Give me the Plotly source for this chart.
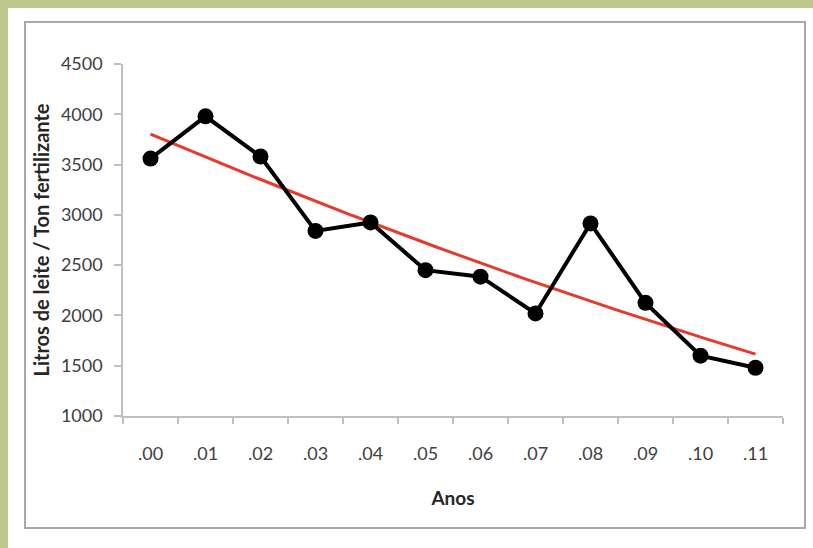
import numpy as np
import plotly.graph_objects as go

# Year labels and milk yield per ton of fertilizer
anos = [".00", ".01", ".02", ".03", ".04", ".05", ".06", ".07", ".08", ".09", ".10", ".11"]
litros = [3560, 3980, 3580, 2840, 2925, 2450, 2385, 2020, 2915, 2125, 1600, 1480]
y_ticks = [1000, 1500, 2000, 2500, 3000, 3500, 4000, 4500]

W, H = 813, 548
L, R, T, B = 123, 783, 64, 416  # plot area in pixels

x_idx = np.arange(len(anos))

# second-order polynomial trend line
coef = np.polyfit(x_idx, litros, 2)
x_fit = np.linspace(0, len(anos) - 1, 200)
y_fit = np.polyval(coef, x_fit)


def px(xp):
    return (xp - L) / (R - L)


def py(yp):
    return (B - yp) / (B - T)


fig = go.Figure()

fig.add_trace(go.Scatter(
    x=x_fit, y=y_fit, mode="lines",
    line=dict(color="#e8392d", width=3),
    hoverinfo="skip", showlegend=False,
))

fig.add_trace(go.Scatter(
    x=x_idx, y=litros, mode="lines+markers",
    line=dict(color="#000000", width=4),
    marker=dict(color="#000000", size=16),
    showlegend=False,
))

axis_col = "#bfbfbf"
font_fam = "Lato, 'Open Sans', sans-serif"
tick_font = dict(family=font_fam, size=18, color="#404040")

fig.update_layout(
    width=W, height=H,
    margin=dict(l=L, r=W - R, t=T, b=H - B),
    paper_bgcolor="#bec78e",
    plot_bgcolor="rgba(0,0,0,0)",
    showlegend=False,
    shapes=[
        # white page
        dict(type="rect", xref="paper", yref="paper",
             x0=px(8), x1=px(813), y0=py(8), y1=py(548),
             fillcolor="#ffffff", line=dict(width=0), layer="below"),
        # chart frame
        dict(type="rect", xref="paper", yref="paper",
             x0=px(25), x1=px(805), y0=py(22), y1=py(528),
             fillcolor="rgba(0,0,0,0)", line=dict(color="#a9a9a9", width=2),
             layer="below"),
    ],
    xaxis=dict(
        range=[-0.5, len(anos) - 0.5],
        tickmode="array", tickvals=list(x_idx), ticktext=anos,
        ticks="", showgrid=False, zeroline=False,
        showline=True, linecolor=axis_col, linewidth=1.5,
        tickfont=tick_font, ticklabelstandoff=21,
        minor=dict(tickmode="linear", tick0=-0.5, dtick=1, ticks="outside",
                   ticklen=6, tickcolor=axis_col, tickwidth=1.5, showgrid=False),
        title=dict(text="<b>Anos</b>", standoff=28,
                   font=dict(family=font_fam, size=19, color="#262626")),
        fixedrange=True,
    ),
    yaxis=dict(
        range=[1000, 4500],
        tickmode="array", tickvals=y_ticks,
        ticks="outside", ticklen=7, tickcolor=axis_col, tickwidth=1.5,
        showgrid=False, zeroline=False,
        showline=True, linecolor=axis_col, linewidth=1.5,
        tickfont=tick_font, ticklabelstandoff=8,
        title=dict(text="<b>Litros de leite / Ton fertilizante</b>", standoff=6,
                   font=dict(family=font_fam, size=20, color="#262626")),
        fixedrange=True,
    ),
)

fig.write_html("out.html")
